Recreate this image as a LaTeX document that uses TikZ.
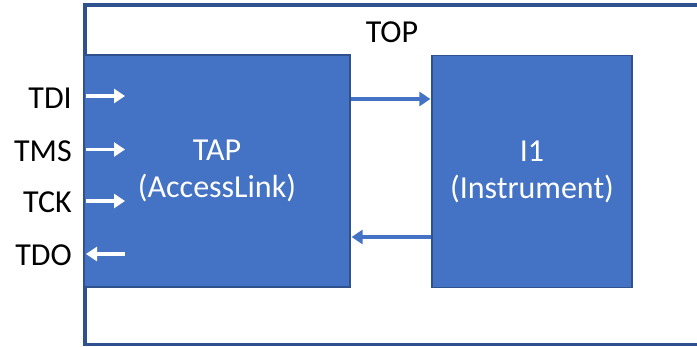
\documentclass[tikz,border=0pt]{standalone}
\usepackage{fontspec}
\setmainfont{Carlito}
\usetikzlibrary{arrows.meta}
\definecolor{boxfill}{HTML}{4472C4}
\definecolor{boxline}{HTML}{2F528F}
\tikzset{
  block/.style={draw=boxline, line width=1.6pt, fill=boxfill, text=white,
    align=center, font=\fontsize{32}{37}\selectfont, inner sep=0pt},
  sig/.style={font=\fontsize{32}{37}\selectfont, anchor=base east, inner sep=0pt},
  pin/.style={draw=white, line width=3.2pt, -{Triangle[length=11pt,width=14pt]}},
  link/.style={draw=boxfill, line width=3.4pt, -{Triangle[length=11pt,width=14pt]}, shorten >=0.8pt}
}
\begin{document}
\begin{tikzpicture}[x=1pt,y=-1pt]
  \useasboundingbox (0,0) rectangle (697,346);
  \clip (0,0) rectangle (697,346);
  % enclosing TOP block (right side runs past the frame)
  \draw[boxline, line width=3.4pt] (85,5) rectangle (720,344.5);
  \node[font=\fontsize{32}{37}\selectfont, anchor=base, inner sep=0pt] (top) at (392,42) {TOP};
  % inner blocks
  \node[block, minimum width=266pt, minimum height=232pt] (tap) at (217,171) {TAP\\(AccessLink)};
  \node[block, minimum width=200pt, minimum height=232pt] (ione) at (532,171.5) {I1\\(Instrument)};
  % connections between blocks
  \coordinate (ab) at (tap.east |- 0,99);
  \coordinate (ba) at (tap.east |- 0,237);
  \draw[link] (ab) -- (ab -| ione.west);
  \draw[link] (ba -| ione.west) -- (ba);
  % JTAG pins
  \node[sig] (tdi) at (72,108) {TDI};
  \node[sig] (tms) at (72,161) {TMS};
  \node[sig] (tck) at (72,212) {TCK};
  \node[sig] (tdo) at (72,265) {TDO};
  \coordinate (pdi) at (86,96);
  \coordinate (pms) at (86,149.5);
  \coordinate (pck) at (86,201);
  \coordinate (pdo) at (86,254);
  \draw[pin] (pdi) -- ++(39,0);
  \draw[pin] (pms) -- ++(39,0);
  \draw[pin] (pck) -- ++(39,0);
  \draw[pin] (pdo) ++(39,0) -- (pdo);
\end{tikzpicture}
\end{document}
